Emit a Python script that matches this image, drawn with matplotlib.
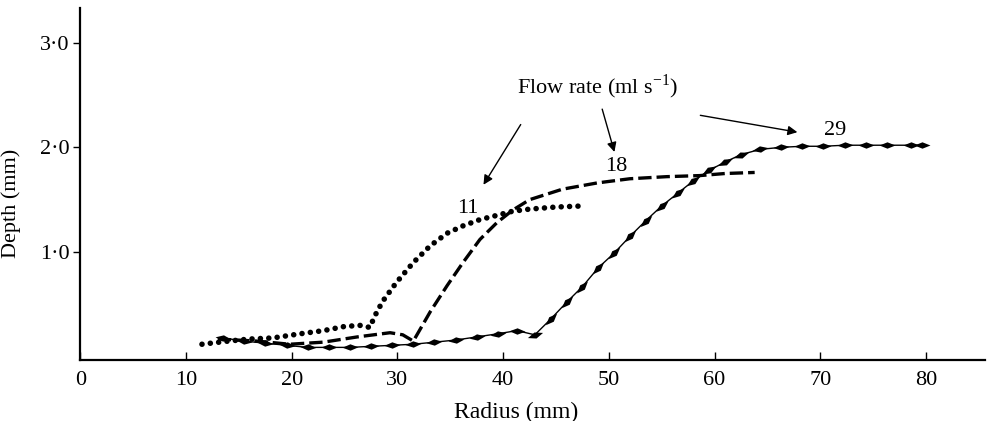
import numpy as np
import matplotlib
matplotlib.use("Agg")
import matplotlib.pyplot as plt
from matplotlib.ticker import FuncFormatter
from matplotlib.markers import MarkerStyle
from matplotlib.path import Path
from matplotlib.transforms import Affine2D

plt.rcParams['font.family'] = ['Liberation Serif', 'DejaVu Serif']
plt.rcParams['mathtext.fontset'] = 'custom'
plt.rcParams['mathtext.rm'] = 'Liberation Serif'

# flow rate 11 ml/s (dotted)
r11 = [11.5, 14.0, 16.0, 18.2, 20.8, 23.0, 25.0, 26.5, 27.4, 27.8, 28.6, 29.9,
       31.5, 33.1, 34.7, 36.2, 37.8, 39.4, 40.9, 42.5, 45.0, 47.5]
d11 = [0.12, 0.15, 0.17, 0.18, 0.22, 0.25, 0.29, 0.30, 0.28, 0.38, 0.53, 0.71,
       0.90, 1.06, 1.18, 1.25, 1.31, 1.35, 1.39, 1.41, 1.43, 1.44]

# flow rate 18 ml/s (dashed)
r18 = [13.0, 16.7, 19.8, 23.0, 26.2, 29.3, 30.5, 31.5, 33.1, 34.7, 36.2, 37.8,
       39.4, 40.9, 42.5, 45.6, 48.9, 52.0, 55.5, 58.6, 61.0, 63.8]
d18 = [0.17, 0.15, 0.12, 0.14, 0.19, 0.23, 0.21, 0.15, 0.43, 0.68, 0.90, 1.12,
       1.28, 1.40, 1.50, 1.60, 1.66, 1.70, 1.72, 1.73, 1.75, 1.76]

# flow rate 29 ml/s (diamonds)
r29 = [13.5, 15.5, 17.5, 19.5, 21.5, 23.5, 25.5, 27.5, 29.5, 31.5, 33.5, 35.5,
       37.5, 39.5, 41.3, 43.0, 44.5, 46.0, 47.5, 49.0, 50.5, 52.0, 53.5, 55.0,
       56.5, 58.0, 59.5, 61.0, 62.5, 64.3, 66.3, 68.3, 70.3, 72.3, 74.3, 76.3,
       78.6, 79.6]
d29 = [0.18, 0.15, 0.13, 0.11, 0.09, 0.09, 0.09, 0.10, 0.11, 0.12, 0.14, 0.16,
       0.19, 0.22, 0.25, 0.21, 0.36, 0.52, 0.67, 0.85, 0.99, 1.15, 1.30, 1.44,
       1.56, 1.68, 1.78, 1.86, 1.93, 1.98, 2.00, 2.01, 2.01, 2.02, 2.02, 2.02,
       2.02, 2.02]

fig = plt.figure(figsize=(9.93, 4.21), dpi=100)
ax = fig.add_axes([0.081, 0.145, 0.911, 0.836])
ax.set_xlim(0, 85.6)
ax.set_ylim(-0.03, 3.33)

ax.plot(r11, d11, color='black', lw=4.0, linestyle=(0, (0.01, 1.5)),
        dash_capstyle='round')
ax.plot(r18, d18, color='black', lw=2.4, linestyle=(0, (4.0, 1.5)))
ax.plot(r29, d29, color='black', lw=1.0)

# diamonds drawn along the line direction
diamond = Path([(-1, 0), (0, 0.4), (1, 0), (0, -0.4), (-1, 0)],
               [Path.MOVETO, Path.LINETO, Path.LINETO, Path.LINETO, Path.CLOSEPOLY])
pts = ax.transData.transform(np.column_stack([r29, d29]))
for i in range(len(r29)):
    a = pts[max(i - 1, 0)]
    b = pts[min(i + 1, len(r29) - 1)]
    ang = np.degrees(np.arctan2(b[1] - a[1], b[0] - a[0]))
    m = MarkerStyle(diamond, transform=Affine2D().rotate_deg(ang))
    ax.plot(r29[i], d29[i], marker=m, markersize=11.5, color='black',
            markeredgewidth=0, linestyle='none')

# annotations
ax.text(48.9, 2.58, 'Flow rate (ml s$^{-1}$)', fontsize=16, ha='center', va='center')
arrowprops = dict(arrowstyle='-|>', color='black', lw=1.0, mutation_scale=14)
ax.annotate('', xy=(38.0, 1.62), xytext=(41.8, 2.24), arrowprops=arrowprops)
ax.annotate('', xy=(50.6, 1.93), xytext=(49.3, 2.39), arrowprops=arrowprops)
ax.annotate('', xy=(68.1, 2.14), xytext=(58.4, 2.31), arrowprops=arrowprops)
ax.text(36.7, 1.42, '11', fontsize=16, ha='center', va='center')
ax.text(50.7, 1.82, '18', fontsize=16, ha='center', va='center')
ax.text(71.4, 2.16, '29', fontsize=16, ha='center', va='center')

ax.set_xticks(range(0, 81, 10))
ax.set_yticks([1, 2, 3])
ax.yaxis.set_major_formatter(FuncFormatter(lambda v, p: f'{v:.1f}'.replace('.', '\u00b7')))
ax.spines['top'].set_visible(False)
ax.spines['right'].set_visible(False)
ax.spines['left'].set_linewidth(1.6)
ax.spines['bottom'].set_linewidth(1.6)
ax.tick_params(axis='x', direction='in', length=6, width=1, labelsize=16, pad=8)
ax.tick_params(axis='y', direction='out', length=5, width=1, labelsize=16, pad=3)

ax.set_xlabel('Radius (mm)', fontsize=17)
ax.set_ylabel('Depth (mm)', fontsize=16)
ax.xaxis.set_label_coords(0.482, -0.118)
ax.yaxis.set_label_coords(-0.066, 0.446)

fig.savefig('out.png', dpi=100)
